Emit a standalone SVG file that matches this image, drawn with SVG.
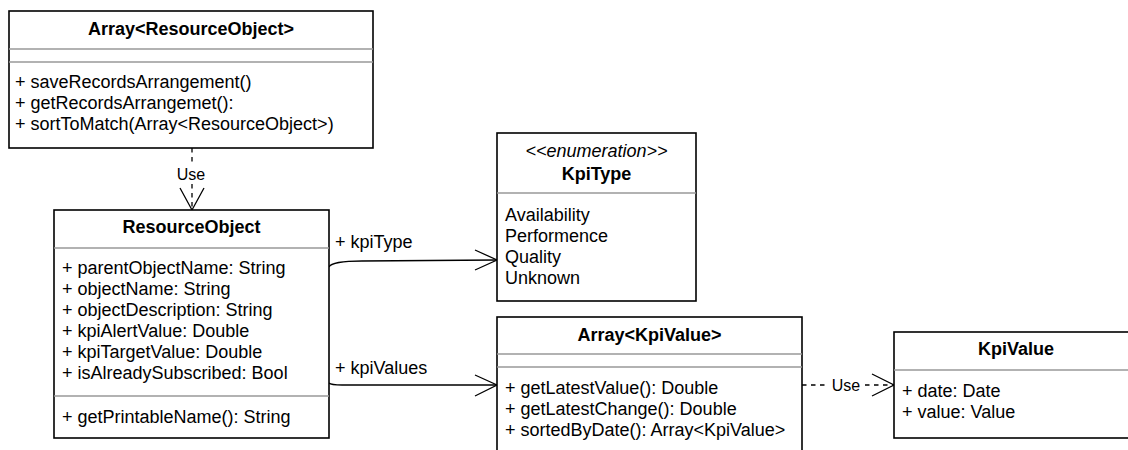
<svg xmlns="http://www.w3.org/2000/svg" width="1128" height="450" viewBox="0 0 1128 450">
  <style>
    text { font-family: "Liberation Sans", Helvetica, Arial, sans-serif; font-size: 18px; fill: #000; }
    .title { font-weight: bold; text-anchor: middle; }
    .stereo { font-style: italic; text-anchor: middle; }
    .lbl { font-size: 16px; text-anchor: middle; }
    .box { fill: #fff; stroke: #000; stroke-width: 1.6; }
    .div { stroke: #999; stroke-width: 1.6; fill: none; }
    .edge { fill: none; stroke: #000; stroke-width: 1.3; }
    .dash { stroke-dasharray: 4.5 4.5; }
  </style>
  <rect width="1128" height="450" fill="#fff"/>

  <!-- connectors -->
  <g id="connectors">
    <!-- Array<ResourceObject> uses ResourceObject -->
    <g id="use-top">
      <line class="edge dash" x1="192" y1="148" x2="192" y2="210"/>
      <rect x="175" y="165" width="34" height="19" fill="#fff"/>
      <text class="lbl" x="191" y="180">Use</text>
      <polyline class="edge" points="180,188 192,210 204,188"/>
    </g>
    <!-- kpiType association -->
    <g id="assoc-kpitype">
      <path class="edge" d="M329,267 Q332,261 362,261 L497,260"/>
      <polyline class="edge" points="475,250 497,260 475,270"/>
      <text x="335" y="248">+ kpiType</text>
    </g>
    <!-- kpiValues association -->
    <g id="assoc-kpivalues">
      <path class="edge" d="M329,383 Q331,385 342,385 L497,385"/>
      <polyline class="edge" points="475,375 497,385 475,396"/>
      <text x="335" y="374">+ kpiValues</text>
    </g>
    <!-- Array<KpiValue> uses KpiValue -->
    <g id="use-right">
      <line class="edge dash" x1="802" y1="385" x2="894" y2="385"/>
      <rect x="829" y="375" width="35" height="19" fill="#fff"/>
      <text class="lbl" x="846" y="391">Use</text>
      <polyline class="edge" points="872,374 894,385 872,396"/>
    </g>
  </g>

  <!-- Array<ResourceObject> -->
  <g id="array-resource-object">
    <rect class="box" x="9" y="11" width="364" height="137"/>
    <text class="title" x="191" y="35">Array&lt;ResourceObject&gt;</text>
    <line class="div" x1="9" y1="49" x2="373" y2="49"/>
    <line class="div" x1="9" y1="62" x2="373" y2="62"/>
    <text x="15" y="88">+ saveRecordsArrangement()</text>
    <text x="15" y="109">+ getRecordsArrangemet():</text>
    <text x="15" y="130">+ sortToMatch(Array&lt;ResourceObject&gt;)</text>
  </g>

  <!-- ResourceObject -->
  <g id="resource-object">
    <rect class="box" x="54" y="210" width="275" height="228"/>
    <text class="title" x="191.5" y="233">ResourceObject</text>
    <line class="div" x1="54" y1="248" x2="329" y2="248"/>
    <text x="62" y="274">+ parentObjectName: String</text>
    <text x="62" y="295">+ objectName: String</text>
    <text x="62" y="316">+ objectDescription: String</text>
    <text x="62" y="337">+ kpiAlertValue: Double</text>
    <text x="62" y="358">+ kpiTargetValue: Double</text>
    <text x="62" y="379">+ isAlreadySubscribed: Bool</text>
    <line class="div" x1="54" y1="396" x2="329" y2="396"/>
    <text x="62" y="423">+ getPrintableName(): String</text>
  </g>

  <!-- KpiType enumeration -->
  <g id="kpi-type">
    <rect class="box" x="497" y="133" width="199" height="168"/>
    <text class="stereo" x="596.5" y="157">&lt;&lt;enumeration&gt;&gt;</text>
    <text class="title" x="596.5" y="180">KpiType</text>
    <line class="div" x1="497" y1="193" x2="696" y2="193"/>
    <text x="505" y="221">Availability</text>
    <text x="505" y="242">Performence</text>
    <text x="505" y="263">Quality</text>
    <text x="505" y="284">Unknown</text>
  </g>

  <!-- Array<KpiValue> -->
  <g id="array-kpi-value">
    <rect class="box" x="497" y="317" width="305" height="145"/>
    <text class="title" x="649.5" y="341">Array&lt;KpiValue&gt;</text>
    <line class="div" x1="497" y1="354" x2="802" y2="354"/>
    <line class="div" x1="497" y1="367" x2="802" y2="367"/>
    <text x="505" y="394">+ getLatestValue(): Double</text>
    <text x="505" y="415">+ getLatestChange(): Double</text>
    <text x="505" y="436">+ sortedByDate(): Array&lt;KpiValue&gt;</text>
  </g>

  <!-- KpiValue -->
  <g id="kpi-value">
    <rect class="box" x="894" y="332" width="244" height="106"/>
    <text class="title" x="1016" y="355">KpiValue</text>
    <line class="div" x1="894" y1="370" x2="1138" y2="370"/>
    <text x="902" y="397">+ date: Date</text>
    <text x="902" y="418">+ value: Value</text>
  </g>
</svg>
